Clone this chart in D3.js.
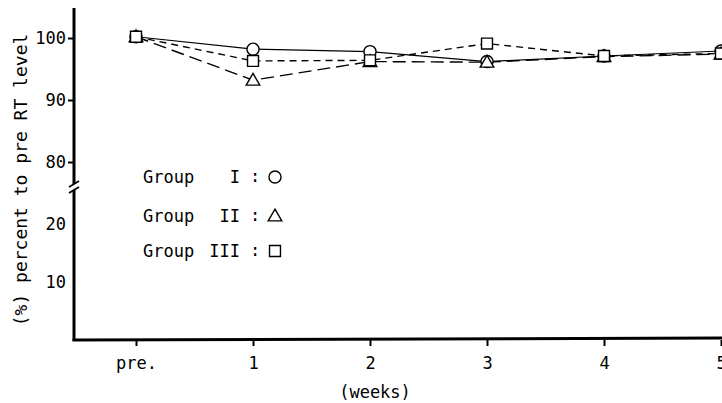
<!DOCTYPE html>
<html>
<head>
<meta charset="utf-8">
<script src="https://cdn.jsdelivr.net/npm/d3@7/dist/d3.min.js"></script>
<style>
  html, body { margin: 0; padding: 0; background: #fff; }
  svg { display: block; }
  text { font-family: "DejaVu Sans Mono", monospace; fill: #000; }
</style>
</head>
<body>
<svg id="chart" width="722" height="403"></svg>
<script>
// --- data ---
const weeks = ["pre.", "1", "2", "3", "4", "5"];
const groupI   = [100.2, 98.2, 97.8, 96.2, 97.1, 97.9];
const groupII  = [100.2, 93.2, 96.2, 96.1, 97.0, 97.4];
const groupIII = [100.2, 96.3, 96.4, 99.1, 97.1, 97.5];
const upperTicks = [80, 90, 100];
const lowerTicks = [10, 20];

const series = [
    { name: "I",   values: groupI,   symbol: "circle",   dash: null },
    { name: "II",  values: groupII,  symbol: "triangle", dash: "13,6" },
    { name: "III", values: groupIII, symbol: "square",   dash: "7,5" }
];

const svg = d3.select("#chart");

const x = d3.scalePoint().domain(weeks).range([136, 721]);
const yUp = d3.scaleLinear().domain([80, 100]).range([162, 38]);
const yLow = d3.scaleLinear().domain([0, 20]).range([340, 224]);

const axisX = 74, axisTop = 8, breakY = 187, baseY = 340;

// symbols
const sym = {
    circle: d3.symbol().type(d3.symbolCircle).size(115),
    triangle: d3.symbol().type(d3.symbolTriangle).size(80),
    square: d3.symbol().type(d3.symbolSquare).size(120)
};

// --- axes ---
const gUp = svg.append("g").attr("transform", `translate(${axisX},0)`)
    .call(d3.axisLeft(yUp).tickValues(upperTicks).tickSize(6).tickPadding(2));
const gLow = svg.append("g").attr("transform", `translate(${axisX},0)`)
    .call(d3.axisLeft(yLow).tickValues(lowerTicks).tickSize(0).tickPadding(8));
[gUp, gLow].forEach(g => {
    g.select(".domain").remove();
    g.selectAll(".tick line").attr("stroke", "#000").attr("stroke-width", 2);
    g.selectAll(".tick text").attr("font-size", 17).attr("font-family", "DejaVu Sans Mono");
});

// vertical axis in two pieces with a break mark
svg.append("line").attr("x1", axisX).attr("x2", axisX).attr("y1", axisTop).attr("y2", breakY - 3)
    .attr("stroke", "#000").attr("stroke-width", 3);
svg.append("line").attr("x1", axisX).attr("x2", axisX).attr("y1", breakY + 3).attr("y2", baseY + 1)
    .attr("stroke", "#000").attr("stroke-width", 3);
[-3, 3].forEach(o => {
    svg.append("line")
        .attr("x1", axisX - 5).attr("y1", breakY + o + 3)
        .attr("x2", axisX + 5).attr("y2", breakY + o - 3)
        .attr("stroke", "#000").attr("stroke-width", 1.8);
});

const gX = svg.append("g").attr("transform", `translate(0,${baseY})`)
    .call(d3.axisBottom(x).tickSize(6).tickPadding(11));
gX.select(".domain").remove();
gX.selectAll(".tick line").attr("stroke", "#000").attr("stroke-width", 2);
gX.selectAll(".tick text").attr("font-size", 17).attr("font-family", "DejaVu Sans Mono");
svg.append("line").attr("x1", axisX - 1.5).attr("x2", 722).attr("y1", baseY).attr("y2", baseY - 2)
    .attr("stroke", "#000").attr("stroke-width", 3);

// axis titles
svg.append("text").attr("x", 375).attr("y", 398).attr("text-anchor", "middle")
    .attr("font-size", 17).text("(weeks)");
svg.append("text").attr("transform", "translate(27,180) rotate(-90)").attr("text-anchor", "middle")
    .attr("font-size", 18).text("(%) percent to pre RT level");

// --- lines ---
const line = d3.line().x((d, i) => x(weeks[i])).y(d => yUp(d));
series.forEach(s => {
    svg.append("path").datum(s.values)
        .attr("d", line)
        .attr("fill", "none")
        .attr("stroke", "#000")
        .attr("stroke-width", s.dash ? 1.4 : 1.2)
        .attr("stroke-dasharray", s.dash);
});

// --- markers ---
series.forEach(s => {
    svg.append("g").selectAll("path").data(s.values).join("path")
        .attr("d", sym[s.symbol])
        .attr("transform", (d, i) => `translate(${x(weeks[i])},${yUp(d) + (s.symbol === "triangle" ? 1 : 0)})`)
        .attr("fill", "#fff")
        .attr("stroke", "#000")
        .attr("stroke-width", 1.4);
});

// --- legend ---
const legendY = [177, 216, 251];
series.forEach((s, i) => {
    const g = svg.append("g").attr("transform", `translate(0,${legendY[i]})`);
    g.append("text").attr("x", 143).attr("y", 6).attr("font-size", 17).text("Group");
    g.append("text").attr("x", 240).attr("y", 6).attr("text-anchor", "end").attr("font-size", 17)
        .attr("font-family", "Liberation Serif").text(s.name);
    g.append("text").attr("x", 255).attr("y", 5).attr("text-anchor", "middle").attr("font-size", 17).text(":");
    g.append("path").attr("d", sym[s.symbol])
        .attr("transform", `translate(275,${s.symbol === "triangle" ? 1 : 0})`)
        .attr("fill", "#fff").attr("stroke", "#000").attr("stroke-width", 1.4);
});
</script>
</body>
</html>
